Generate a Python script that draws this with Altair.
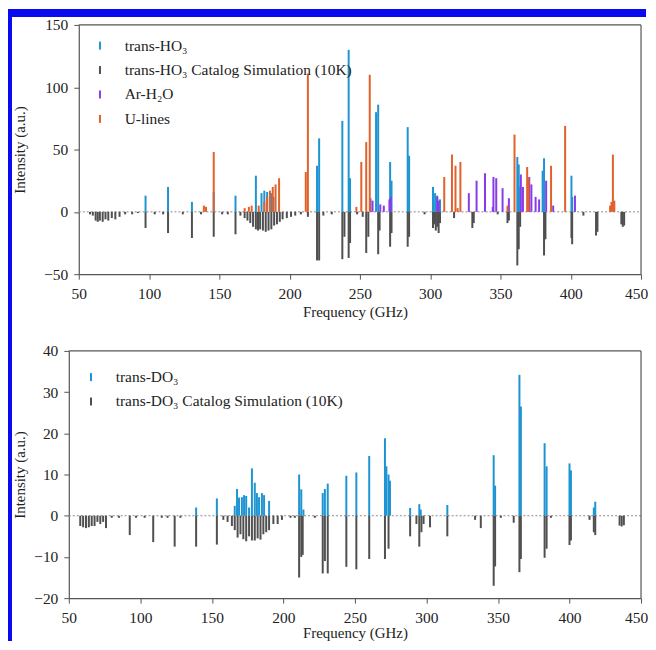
import altair as alt
import pandas as pd

# ---------------- data ----------------
# Top panel: trans-HO3 observed lines
ho3_freq = [97.5, 113.5, 130.5, 146, 161.5, 176, 180, 182, 184, 187, 188.5,
            219.5, 221, 237.5, 242, 243, 261.5, 263, 271.5, 272.5, 284, 285,
            302, 303.5, 305, 307, 362, 363, 364, 380, 381, 400.5, 401]
ho3_int = [13, 20, 8, 16, 13, 29, 15, 17, 16, 15, 12,
           37, 59, 73, 130, 27, 80, 86, 40, 25, 68, 45,
           20, 15, 13, 10, 44, 38, 20, 33, 43, 29, 12]

# Top panel: trans-HO3 catalog simulation (drawn negative)
sim_ho3_freq = [58, 60, 62, 63.5, 65, 67, 69, 71, 73.5, 76, 79, 83, 88, 92,
                97.5, 104, 110, 113.5, 124, 130.5, 137, 146, 152, 156, 161.5,
                165, 168, 170, 172, 174, 176, 177.5, 179, 181, 183, 185, 187,
                189, 191, 193, 195, 198, 201, 204, 208, 213, 219.5, 221, 224,
                230, 237.5, 239, 242, 243, 248, 252, 254.5, 256, 263, 264,
                271.5, 272.5, 284, 285, 296, 302, 303, 304, 305, 306, 307,
                317, 330, 331, 348, 355, 356, 362, 363, 364, 381, 382, 400.5,
                401, 409, 418, 419, 436, 437, 438]
sim_ho3_int = [-2, -3, -7, -8, -7, -8, -6, -7, -5, -6, -4, -2, -2, -1,
               -13, -2, -2, -17, -2, -21, -2, -20, -2, -2, -18,
               -3, -5, -7, -9, -12, -14, -15, -14, -15, -16, -15, -14,
               -11, -10, -8, -6, -5, -4, -3, -2, -4, -39, -39, -3,
               -2, -38, -20, -37, -25, -2, -4, -33, -20, -34, -15,
               -28, -17, -28, -20, -2, -13, -10, -15, -12, -17, -9,
               -5, -13, -9, -2, -9, -7, -43, -30, -12, -35, -22, -21,
               -26, -3, -19, -16, -10, -12, -11]

# Top panel: Ar-H2O lines
arh2o_freq = [257.5, 259, 264.5, 267, 271, 272, 305, 306, 327.5, 333, 339,
              344.5, 345, 347, 351.5, 356, 364.5, 366, 370.5, 372, 375,
              377.5, 382.5, 387.5, 403]
arh2o_int = [11, 9, 6, 5, 10, 12, 12, 9, 15, 25, 31,
             4, 28, 27, 19, 11, 30, 20, 28, 22, 12,
             10, 25, 5, 13]

# Top panel: unidentified lines
ulines_freq = [139, 140.5, 146, 168, 171, 173, 178, 182, 184, 186, 188, 190,
               192.5, 211.5, 213, 247.5, 251, 254.5, 257, 310, 315.5, 318,
               319.5, 321.5, 355, 360, 369, 370, 386, 396, 428, 429, 430, 431]
ulines_int = [5, 4, 48, 3, 4, 5, 5, 8, 12, 17, 20, 22,
              27, 32, 111, 4, 40, 56, 110, 28, 46, 37,
              3, 40, 5, 62, 36, 27, 37, 69, 5, 8, 46, 9]

# Bottom panel: trans-DO3 observed lines
do3_freq = [139, 153.5, 166, 167.6, 169, 171, 172.5, 174, 176, 178, 180,
            181.5, 183, 185, 186.5, 190, 211, 212.5, 214, 227.5, 229, 231,
            244, 251, 260, 271, 272, 273.5, 274.5, 288.6, 295, 296, 314.6,
            347, 348, 365, 366, 382.6, 384, 400, 401, 417, 418]
do3_int = [2.0, 4.2, 2.4, 6.5, 4.4, 4.5, 5, 4.8, 2, 11.5, 8,
           5.5, 4.5, 5.5, 5, 3.6, 10, 6.4, 1.5, 5.5, 6.5, 7.8,
           9.7, 10.5, 14.5, 18.8, 12, 10, 8.5, 1.9, 2.8, 1.5, 2.6,
           14.7, 7.3, 34.2, 26.5, 17.6, 12, 12.7, 11, 2, 3.4]

# Bottom panel: trans-DO3 catalog simulation (drawn negative)
sim_do3_freq = [58, 60, 62, 64, 66, 68, 70, 72, 74, 76, 80, 85, 92.6, 97, 103,
                109, 115, 119, 124, 128, 139, 153.5, 158, 161, 164, 166, 168,
                170, 172, 174, 176, 178, 180, 182, 184, 186, 188, 190, 193,
                196, 199, 205, 208, 211, 212.5, 213.5, 222, 227.5, 229, 231,
                244, 251, 260, 271, 273.5, 288.6, 293, 295, 296.5, 298, 302.5,
                314.6, 334, 338, 347, 348, 352, 361, 365, 366, 382.6, 384,
                387, 400, 401, 414, 417, 418, 435, 436.5, 438]
sim_do3_int = [-2.5, -2.8, -3, -2.8, -2.5, -2.5, -1.5, -2, -1.5, -3, -0.5,
               -0.5, -4.7, -0.5, -0.5, -6.4, -0.5, -0.5, -7.5, -0.5, -7.5,
               -7, -1, -1.5, -2.5, -3.5, -5.3, -4.5, -5.7, -6.2, -5, -6, -6,
               -5.5, -5.8, -4.5, -4, -3.5, -2, -2, -1, -0.5, -0.5, -15, -10,
               -9.5, -0.5, -14, -11, -14, -12.4, -13, -10.5, -10.5, -8, -5,
               -2, -7.5, -4, -2, -2.8, -5, -1, -3, -17, -12.3, -0.5, -1.7,
               -13.7, -10.5, -10.2, -8, -0.5, -7.1, -6, -1, -4, -4.7, -2.4,
               -2.6, -2.3]

TOP_SERIES = ["trans-HO₃", "trans-HO₃ Catalog Simulation (10K)", "Ar-H₂O", "U-lines"]
TOP_COLORS = ["#1f94d2", "#505050", "#8a3be8", "#e2612b"]
BOT_SERIES = ["trans-DO₃", "trans-DO₃ Catalog Simulation (10K)"]
BOT_COLORS = ["#1f94d2", "#505050"]

x_ticks = [50, 100, 150, 200, 250, 300, 350, 400, 450]
top_y_ticks = [-50, 0, 50, 100, 150]
bot_y_ticks = [-20, -10, 0, 10, 20, 30, 40]

FONT = "Liberation Serif, Times New Roman, DejaVu Serif, serif"
FRAME_BLUE = "#0a0af0"
AXIS_GRAY = "#555"
W = 574          # panel group width (bottom plot width)
TOP_INSET = 10   # top plot starts 10 px right of the bottom plot


def build_df(pairs):
    frames = []
    for name, fr, it in pairs:
        frames.append(pd.DataFrame({"freq": fr, "intensity": it, "series": name}))
    return pd.concat(frames, ignore_index=True)


top_df = build_df([
    (TOP_SERIES[0], ho3_freq, ho3_int),
    (TOP_SERIES[1], sim_ho3_freq, sim_ho3_int),
    (TOP_SERIES[2], arh2o_freq, arh2o_int),
    (TOP_SERIES[3], ulines_freq, ulines_int),
])
bot_df = build_df([
    (BOT_SERIES[0], do3_freq, do3_int),
    (BOT_SERIES[1], sim_do3_freq, sim_do3_int),
])

one = pd.DataFrame({"k": [0]})
last_label_shift = {"condition": {"test": "datum.value === 450", "value": -5}, "value": 0}


def panel(df, series, colors, ydom, yticks, height, inset, title_pad, xtitle_pad,
          legend_x, legend_y, row_pad, bands, box):
    xaxis = alt.Axis(values=x_ticks, title="Frequency (GHz)", grid=False,
                     tickSize=5, labelPadding=7, titlePadding=xtitle_pad,
                     labelFlush=False, labelOffset=last_label_shift,
                     titleX=W / 2)
    yaxis = alt.Axis(values=yticks, title="Intensity (a.u.)", grid=False,
                     tickSize=5, labelPadding=6, titlePadding=title_pad,
                     minExtent=30, maxExtent=30, offset=-inset)
    zero = alt.Chart(one).mark_rule(color="#8a8a8a", strokeWidth=1,
                                    strokeDash=[2, 2]).encode(
        y=alt.datum(0), x=alt.value(inset), x2=alt.value(W))
    sticks = alt.Chart(df).mark_rule(strokeWidth=2).encode(
        x=alt.X("freq:Q", scale=alt.Scale(domain=[50, 450], nice=False, range=[inset, W]),
                axis=xaxis),
        y=alt.Y("intensity:Q", scale=alt.Scale(domain=ydom, nice=False), axis=yaxis),
        y2=alt.datum(0),
        color=alt.Color("series:N", scale=alt.Scale(domain=series, range=colors),
                        legend=alt.Legend(title=None, orient="none",
                                          legendX=legend_x, legendY=legend_y,
                                          symbolType="M0,-1L0,1", symbolSize=64,
                                          symbolStrokeWidth=2, labelFont=FONT,
                                          labelFontSize=15.5, labelColor="#222",
                                          labelOffset=17, rowPadding=row_pad,
                                          labelLimit=500)),
    )
    layers = [zero, sticks]
    if box:
        # top and right edges of the panel frame
        layers.append(alt.Chart(one).mark_rule(color=AXIS_GRAY, strokeWidth=1.2).encode(
            x=alt.value(inset), x2=alt.value(W), y=alt.value(0)))
        layers.append(alt.Chart(one).mark_rule(color=AXIS_GRAY, strokeWidth=1.2).encode(
            x=alt.value(W), y=alt.value(0), y2=alt.value(height)))
    for (x1, x2, y1, y2) in bands:
        layers.append(alt.Chart(one).mark_rect(color=FRAME_BLUE).encode(
            x=alt.value(x1), x2=alt.value(x2), y=alt.value(y1), y2=alt.value(y2)))
    return alt.layer(*layers).properties(width=W, height=height,
                                         view=alt.ViewBackground(stroke=None))


top = panel(top_df, TOP_SERIES, TOP_COLORS, [-50, 150], top_y_ticks, 250,
            TOP_INSET, 21, 3, 23.5, 13, 6.5,
            bands=[(-61, -57, -16, 317), (-61, 579, -16, -8)], box=True)
bottom = panel(bot_df, BOT_SERIES, BOT_COLORS, [-20, 40], bot_y_ticks, 248,
               0, 11, 0, 14.5, 18.5, 6.5,
               bands=[(-61, -57, -10, 291)], box=True)

chart = alt.vconcat(top, bottom, spacing=0).resolve_scale(
    color="independent"
).resolve_legend(color="independent").properties(
    padding={"left": 0, "top": 0, "right": 0, "bottom": 0}
).configure(background="white").configure_axis(
    domainColor=AXIS_GRAY, tickColor=AXIS_GRAY, labelColor="#222", titleColor="#222",
    labelFont=FONT, titleFont=FONT, labelFontSize=15.5, titleFontSize=15,
    titleFontWeight="normal", domainWidth=1.2
)

chart.save("out.html", embed_options={"renderer": "svg", "actions": False})
